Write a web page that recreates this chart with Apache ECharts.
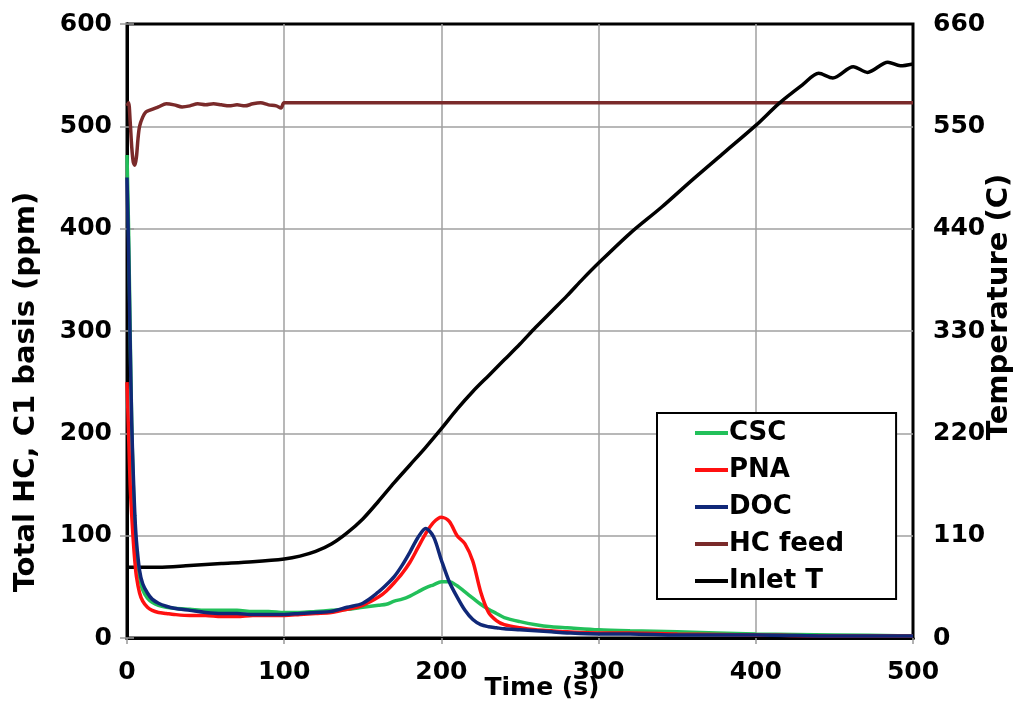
<!DOCTYPE html>
<html>
<head>
<meta charset="utf-8">
<script src="https://cdn.jsdelivr.net/npm/echarts@6/dist/echarts.min.js"></script>
<style>
html,body{margin:0;padding:0;background:#fff;}
#chart{width:1025px;height:710px;}
</style>
</head>
<body>
<div id="chart"></div>
<script>
// ---- data ----
const hcTime = [0,1,2,3,4,5,6,8,10,13,16,20,25,30,40,50,60,70,80,90,100,110,120,130,140,150,160,165,170,175,180,185,190,195,200,205,210,215,220,225,230,235,240,250,260,270,280,300,320,350,400,450,500];
const cscValues = [472,400,300,210,150,110,85,60,47,39,35,32,30,29,28,27,27,27,26,26,25,25,26,27,28,30,32,33,36,38,41,45,49,52,55,55,51,45,39,33,28,24,20,16,13,11,10,8,7,6,4,3,2];
const pnaValues = [250,200,150,120,95,75,60,44,36,30,27,25,24,23,22,22,21,21,22,22,22,23,24,25,28,32,40,46,54,63,74,88,102,113,118,114,100,92,75,45,25,17,13,10,8,7,6,5,5,4,3,2,2];
const docValues = [450,380,290,210,160,120,95,66,53,44,38,34,31,29,27,25,24,24,23,23,23,24,25,26,30,34,45,52,60,71,84,98,107,99,76,55,40,27,18,13,11,10,9,8,7,6,5,4,4,3,3,2,2];

const feedTime = [0,1,2,3,4,5,6,7,8,10,12,15,20,25,30,35,40,45,50,55,60,65,70,75,80,85,90,95,98,100,500];
const feedValues = [520,523,505,480,465,462,470,488,500,509,514,516,519,522,521,519,520,522,521,522,521,520,521,520,522,523,521,520,518,523,523];

const tempTime = [0,10,20,40,60,80,100,110,120,130,140,150,160,170,180,190,200,210,220,230,240,250,260,270,280,290,300,320,340,360,380,400,415,430,440,449,462,471,484,492,500];
const tempValues = [76,76,76,78,80,82,85,88,93,101,113,128,147,167,186,205,225,246,265,282,299,316,334,351,368,386,403,435,463,493,522,551,575,595,607,602,614,608,619,615,617];

const xTicks = [0,100,200,300,400,500];
const leftTicks = [0,100,200,300,400,500,600];
const rightTicks = [0,110,220,330,440,550,660];

const seriesNames = ['CSC','PNA','DOC','HC feed','Inlet T'];
const seriesColors = ['#22c05a','#ff1010','#102878','#7a2a2a','#000000'];

function zip(t, v){ return t.map((x,i)=>[x, v[i]]); }

const chart = echarts.init(document.getElementById('chart'), null, {renderer:'canvas'});
const fontFam = '"DejaVu Sans", sans-serif';
const labelStyle = {color:'#000', fontWeight:'bold', fontSize:25, fontFamily:fontFam};

function lineSeries(name, data, color, yIndex, z){
  return {
    name:name, type:'line', data:data, yAxisIndex:yIndex, showSymbol:false,
    smooth:0.3, z:z,
    lineStyle:{color:color, width:3.5}, itemStyle:{color:color}
  };
}

chart.setOption({
  animation:false,
  backgroundColor:'#fff',
  grid:{left:127, right:112, top:24, bottom:72, containLabel:false, outerBoundsMode:'none',
        show:true, borderColor:'#000', borderWidth:3, backgroundColor:'transparent'},
  xAxis:[{
    type:'value', min:xTicks[0], max:xTicks[xTicks.length-1], interval:100,
    name:'Time (s)', nameLocation:'middle', nameGap:38, nameMoveOverlap:false,
    nameTextStyle:{color:'#000', fontWeight:'bold', fontSize:25, fontFamily:fontFam, padding:[0,0,0,44]},
    axisLine:{show:true, lineStyle:{color:'#000', width:3}},
    axisTick:{show:true, length:6, lineStyle:{color:'#999', width:1.5}},
    axisLabel:Object.assign({margin:22}, labelStyle),
    splitLine:{show:true, showMaxLine:false, showMinLine:false, lineStyle:{color:'#a0a0a0', width:1.5}}
  },{
    type:'value', position:'top', min:xTicks[0], max:xTicks[xTicks.length-1], interval:100,
    axisLine:{show:true, lineStyle:{color:'#000', width:3}},
    axisTick:{show:false}, axisLabel:{show:false}, splitLine:{show:false}
  }],
  yAxis:[{
    type:'value', min:leftTicks[0], max:leftTicks[leftTicks.length-1], interval:100,
    name:'Total HC, C1 basis (ppm)', nameLocation:'middle', nameGap:86, nameRotate:90, nameMoveOverlap:false,
    nameTextStyle:{color:'#000', fontWeight:'bold', fontSize:29, fontFamily:fontFam, padding:[0,122,0,0]},
    axisLine:{show:true, lineStyle:{color:'#000', width:3}},
    axisTick:{show:true, length:7, lineStyle:{color:'#999', width:1.5}},
    axisLabel:Object.assign({margin:15}, labelStyle),
    splitLine:{show:true, showMaxLine:false, showMinLine:false, lineStyle:{color:'#a0a0a0', width:1.5}}
  },{
    type:'value', min:rightTicks[0], max:rightTicks[rightTicks.length-1], interval:110,
    position:'right',
    name:'Temperature (C)', nameLocation:'middle', nameGap:72, nameRotate:90, nameMoveOverlap:false,
    nameTextStyle:{color:'#000', fontWeight:'bold', fontSize:29, fontFamily:fontFam, padding:[0,0,0,48]},
    axisLine:{show:true, lineStyle:{color:'#000', width:3}},
    axisTick:{show:true, length:7, lineStyle:{color:'#999', width:1.5}},
    axisLabel:Object.assign({margin:20}, labelStyle),
    splitLine:{show:false}
  }],
  legend:{
    orient:'vertical', left:657, top:413,
    backgroundColor:'#fff', borderColor:'#000', borderWidth:2,
    padding:[7,52,5,38], itemGap:11, itemWidth:33, itemHeight:4, icon:'rect',
    selectedMode:false,
    textStyle:{color:'#000', fontWeight:'bold', fontSize:26, fontFamily:fontFam, padding:[0,0,0,-4]},
    data:seriesNames
  },
  series:[
    lineSeries(seriesNames[3], zip(feedTime, feedValues), seriesColors[3], 0, 2),
    lineSeries(seriesNames[4], zip(tempTime, tempValues), seriesColors[4], 1, 3),
    lineSeries(seriesNames[0], zip(hcTime, cscValues), seriesColors[0], 0, 4),
    lineSeries(seriesNames[1], zip(hcTime, pnaValues), seriesColors[1], 0, 5),
    lineSeries(seriesNames[2], zip(hcTime, docValues), seriesColors[2], 0, 6)
  ]
});
</script>
</body>
</html>
